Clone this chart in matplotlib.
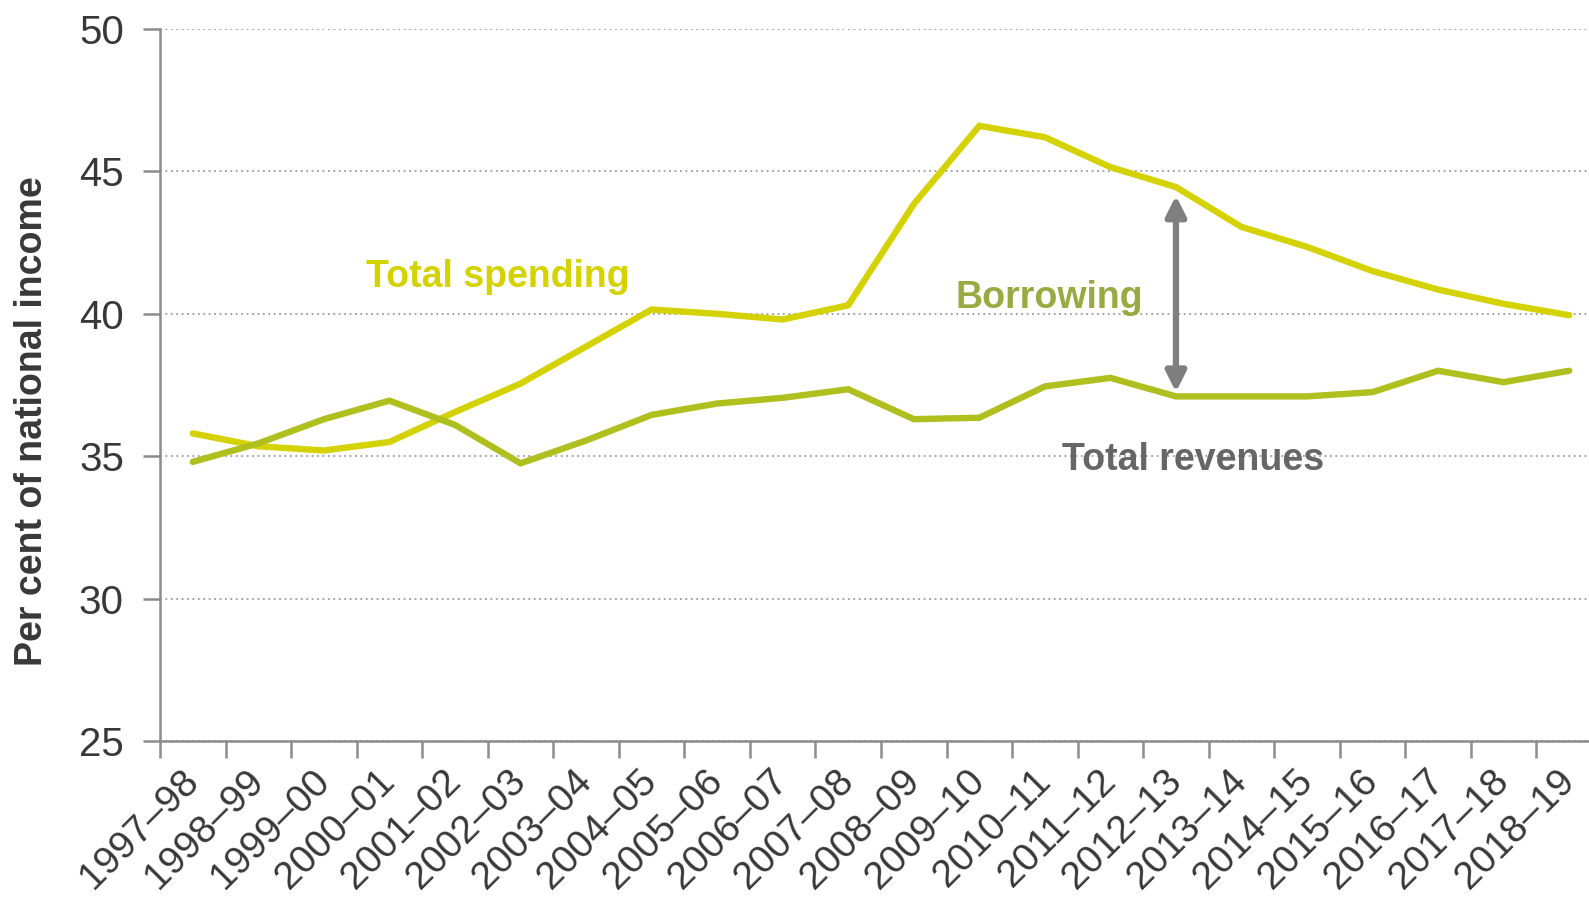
import numpy as np
import matplotlib.pyplot as plt

plt.rcParams['font.family'] = ['Liberation Sans', 'DejaVu Sans']

# Financial years
years = ['1997–98', '1998–99', '1999–00', '2000–01', '2001–02', '2002–03',
         '2003–04', '2004–05', '2005–06', '2006–07', '2007–08', '2008–09',
         '2009–10', '2010–11', '2011–12', '2012–13', '2013–14', '2014–15',
         '2015–16', '2016–17', '2017–18', '2018–19']

# Per cent of national income
total_spending = [35.8, 35.35, 35.2, 35.5, 36.55, 37.55, 38.85, 40.15, 40.0,
                  39.8, 40.3, 43.85, 46.6, 46.2, 45.15, 44.45, 43.05, 42.35,
                  41.5, 40.85, 40.35, 39.95]
total_revenues = [34.8, 35.45, 36.3, 36.95, 36.1, 34.75, 35.55, 36.45, 36.85,
                  37.05, 37.35, 36.3, 36.35, 37.45, 37.75, 37.1, 37.1, 37.1,
                  37.25, 38.0, 37.6, 38.0]

spend_colour = '#d4d200'
rev_colour = '#afbf1e'
axis_grey = '#8c8c8c'
text_dark = '#383838'

x = np.arange(len(years))

fig = plt.figure(figsize=(15.89, 9.01), dpi=100)
ax = fig.add_axes([160 / 1589, 1 - 741 / 901, 1442 / 1589, (741 - 29) / 901])

ax.plot(x, total_spending, color=spend_colour, lw=4.6, solid_capstyle='round',
        solid_joinstyle='miter', zorder=3)
ax.plot(x, total_revenues, color=rev_colour, lw=4.6, solid_capstyle='round',
        solid_joinstyle='miter', zorder=3)

# Gap between spending and revenues in 2012-13
i = years.index('2012–13')
ax.annotate('', xy=(i, total_revenues[i] + 0.15), xytext=(i, total_spending[i] - 0.3),
            arrowprops=dict(arrowstyle='<|-|>,head_length=1.2,head_width=0.6',
                            color='#7f7f7f', lw=4.5, shrinkA=0, shrinkB=0), zorder=4)

ax.text(4.65, 41.3, 'Total spending', color=spend_colour, fontsize=27,
        fontweight='bold', ha='center', va='center')
ax.text(13.07, 40.55, 'Borrowing', color='#98aa42', fontsize=27,
        fontweight='bold', ha='center', va='center')
ax.text(15.26, 34.87, 'Total revenues', color='#666666', fontsize=27,
        fontweight='bold', ha='center', va='center')

ax.set_xlim(-0.5, len(years) - 0.5)
ax.set_ylim(25, 50)
ax.set_yticks(np.arange(25, 51, 5))
ax.yaxis.grid(True, color='#9a9a9a', linestyle=(0, (1, 2)), lw=1.3)
ax.set_axisbelow(True)

ax.set_xticks(x)
ax.set_xticklabels(years, rotation=45, ha='right', va='center',
                   rotation_mode='anchor', fontsize=28, color=text_dark)
ax.set_xticks(np.arange(-0.5, len(years), 1), minor=True)
ax.tick_params(axis='x', which='major', length=0, pad=25)
ax.tick_params(axis='x', which='minor', length=12, width=1.8, color=axis_grey)
ax.tick_params(axis='y', length=12, width=1.8, color=axis_grey, labelsize=29,
               labelcolor=text_dark, pad=14)

for side in ['top', 'right']:
    ax.spines[side].set_visible(False)
for side in ['left', 'bottom']:
    ax.spines[side].set_color(axis_grey)
    ax.spines[side].set_linewidth(1.8)

fig.text(32 / 1589, 1 - 421 / 901, 'Per cent of national income', rotation=90,
         fontsize=27, fontweight='bold', color=text_dark, ha='center', va='center')

fig.savefig('out.png', dpi=100)
